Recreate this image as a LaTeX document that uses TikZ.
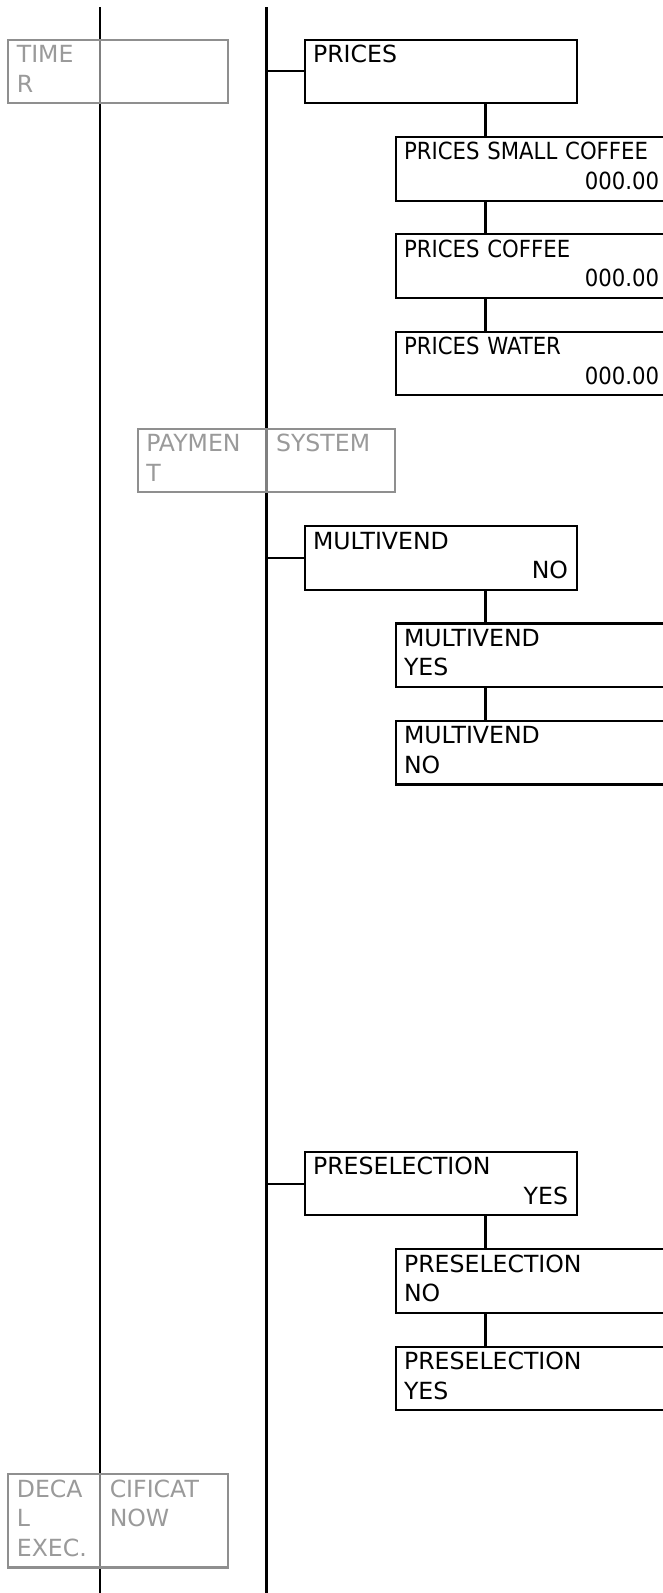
\documentclass[tikz,border=0pt]{standalone}
\usepackage{fontspec}
\setmainfont{DejaVu Sans}
\IfFontExistsTF{DejaVu Sans Condensed}
  {\newfontfamily\narrowfont{DejaVu Sans Condensed}}
  {\newfontfamily\narrowfont{DejaVu Sans}[FakeStretch=0.9]}
\usetikzlibrary{positioning}
\definecolor{ghostline}{HTML}{8F8F8F}
\definecolor{ghosttext}{HTML}{9A9A9A}

\begin{document}
\begin{tikzpicture}[x=1pt,y=-1pt,
node distance=31.7pt,
menu/.style={draw,line width=2.1pt,fill=white,anchor=north west,text width=255pt,inner xsep=8.5pt,inner ysep=2.3pt,align=left,font=\fontsize{23.6}{29.5}\selectfont},
price/.style={menu,font=\narrowfont\fontsize{23.6}{29.5}\selectfont},
ghost/.style={draw=ghostline,line width=2.1pt,fill=white,fill opacity=0.5,text opacity=1,text=ghosttext,anchor=north west,inner xsep=8.5pt,inner ysep=2.3pt,align=left,font=\fontsize{23.6}{29.5}\selectfont},
cell/.style={line width=2.1pt,text=ghosttext,anchor=north west,inner xsep=8.5pt,inner ysep=2.3pt,align=left,font=\fontsize{23.6}{29.5}\selectfont},
link/.style={line width=2.1pt}
]
\useasboundingbox (0,0) rectangle (662,1593);
% the two rails
\coordinate (ltop) at (100.2,7);
\coordinate (lbot) at (100.2,1600);
\coordinate (rtop) at (266.5,7);
\coordinate (rbot) at (266.5,1600);
\draw[link] (ltop) -- (lbot);
\draw[link] (rtop) -- (rbot);

% greyed groups on the rails
\node[ghost,text width=203pt] (timer) at (7.3,38.5) {\strut TIME\\\strut R};
\node[ghost,text width=240pt] (pay) at (136.7,427.7) {\strut PAYMEN\\\strut T};
\node[cell,text width=100pt] (paysys) at (pay.north west -| rtop) {\strut SYSTEM};
\node[ghost,text width=203pt] (decal) at (7.3,1473.3) {\strut DECA\\\strut L\\\strut EXEC.};
\node[cell,text width=100pt] (decalnow) at (decal.north west -| ltop) {\strut CIFICAT\\\strut NOW};

% prices
\node[menu] (prices) at (303.5,38.5) {\strut PRICES\\\strut};
\node[price,below=of prices.south west,anchor=north west,xshift=91pt] (small) {\strut PRICES SMALL COFFEE\\\strut\hfill 000.00};
\node[price,below=of small] (coffee) {\strut PRICES COFFEE\\\strut\hfill 000.00};
\node[price,below=of coffee] (water) {\strut PRICES WATER\\\strut\hfill 000.00};

% multivend
\node[menu] (mv) at (303.5,525) {\strut MULTIVEND\\\strut\hfill NO};
\node[menu,below=of mv.south west,anchor=north west,xshift=91pt] (mvyes) {\strut MULTIVEND\\\strut YES};
\node[menu,below=of mvyes] (mvno) {\strut MULTIVEND\\\strut NO};

% preselection
\node[menu] (pre) at (303.5,1150.7) {\strut PRESELECTION\\\strut\hfill YES};
\node[menu,below=of pre.south west,anchor=north west,xshift=91pt] (preno) {\strut PRESELECTION\\\strut NO};
\node[menu,below=of preno] (preyes) {\strut PRESELECTION\\\strut YES};

\draw[link] (prices.west) -- (prices.west -| rtop);
\draw[link] (mv.west) -- (mv.west -| rtop);
\draw[link] (pre.west) -- (pre.west -| rtop);
\draw[link] ([xshift=182pt]prices.south west) -- ([xshift=91pt]small.north west);
\draw[link] ([xshift=91pt]small.south west) -- ([xshift=91pt]coffee.north west);
\draw[link] ([xshift=91pt]coffee.south west) -- ([xshift=91pt]water.north west);
\draw[link] ([xshift=182pt]mv.south west) -- ([xshift=91pt]mvyes.north west);
\draw[link] ([xshift=91pt]mvyes.south west) -- ([xshift=91pt]mvno.north west);
\draw[link] ([xshift=182pt]pre.south west) -- ([xshift=91pt]preno.north west);
\draw[link] ([xshift=91pt]preno.south west) -- ([xshift=91pt]preyes.north west);
\end{tikzpicture}
\end{document}
